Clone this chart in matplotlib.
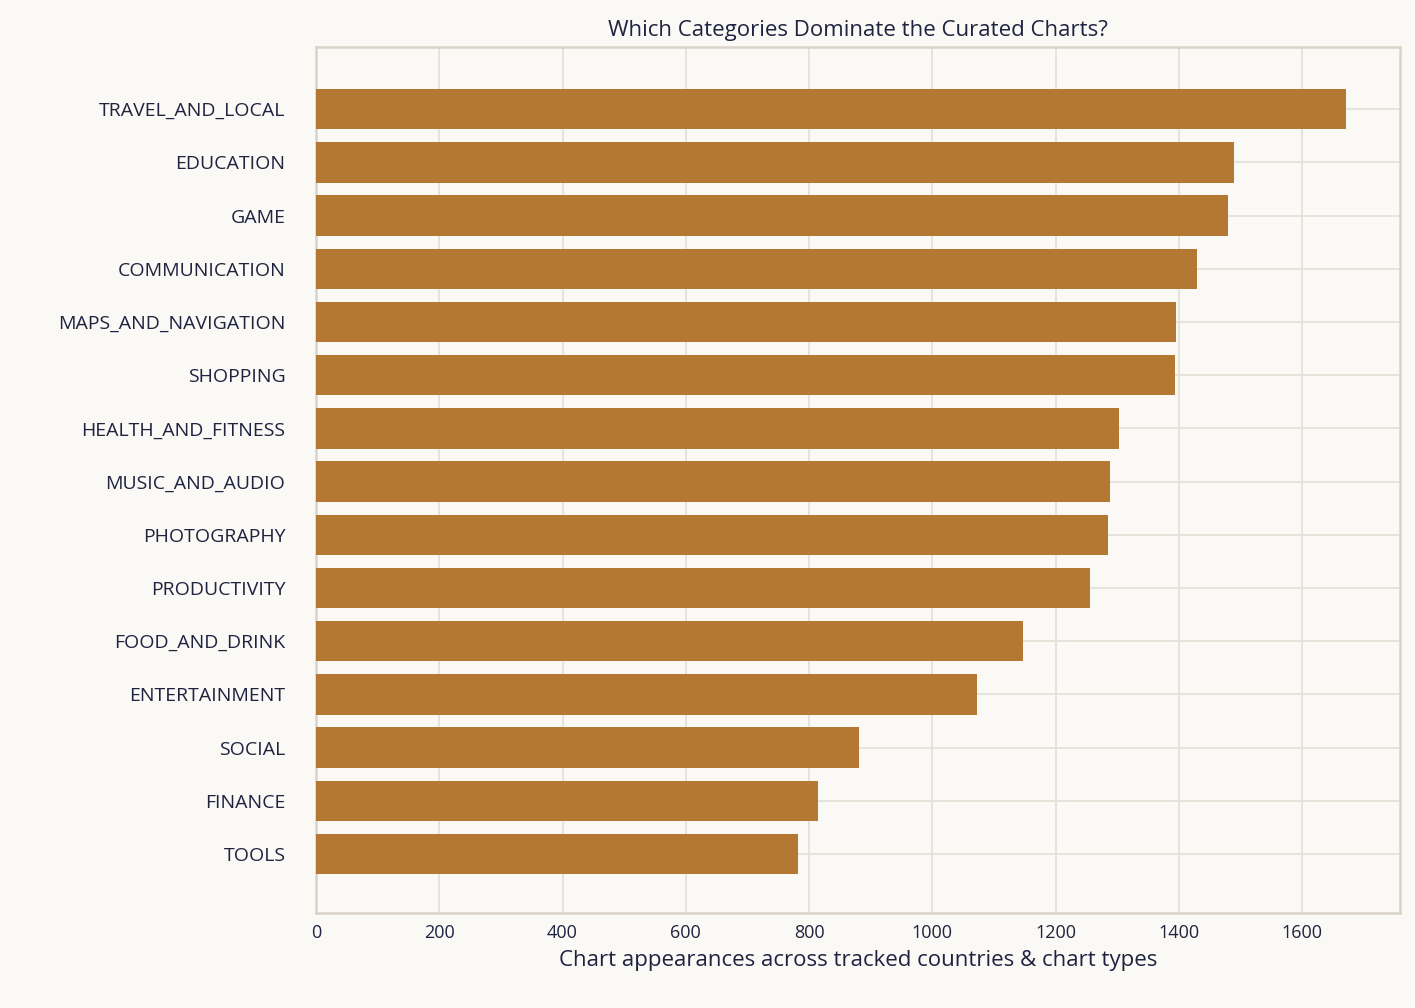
import matplotlib.pyplot as plt

categories = ["TRAVEL_AND_LOCAL", "EDUCATION", "GAME", "COMMUNICATION", "MAPS_AND_NAVIGATION",
              "SHOPPING", "HEALTH_AND_FITNESS", "MUSIC_AND_AUDIO", "PHOTOGRAPHY", "PRODUCTIVITY",
              "FOOD_AND_DRINK", "ENTERTAINMENT", "SOCIAL", "FINANCE", "TOOLS"]
counts = [1671, 1490, 1480, 1430, 1396, 1394, 1303, 1288, 1285, 1256, 1147, 1073, 881, 815, 782]

plt.rcParams['font.family'] = ['Open Sans', 'DejaVu Sans']
bg = '#faf9f5'
fig = plt.figure(figsize=(14.15, 10.08), dpi=100, facecolor=bg)
ax = fig.add_axes([316/1415, 1-913/1008, (1400-316)/1415, (913-47)/1008])
ax.set_facecolor(bg)

y = list(range(len(categories)))
ax.barh(y, counts, height=0.76, color='#b47832', zorder=3)
ax.set_yticks(y)
ax.set_yticklabels(categories, fontsize=14, color='#1f2340')
ax.set_ylim(len(categories) - 1 + 1.11, -1.17)
ax.set_xlim(0, 1759)
ax.set_xticks(range(0, 1601, 200))
ax.tick_params(axis='x', labelsize=13, colors='#1f2340')
ax.tick_params(length=0, pad=8)
ax.tick_params(axis='y', pad=22)
ax.grid(True, color='#e4e1d8', linewidth=1.3, zorder=0)
for s in ax.spines.values():
    s.set_color('#d9d4c7')
    s.set_linewidth(1.8)
ax.set_xlabel("Chart appearances across tracked countries & chart types", fontsize=16, color='#1f2340', labelpad=6)
ax.set_title("Which Categories Dominate the Curated Charts?", fontsize=16, color='#1f2340', pad=8)

fig.savefig('out.png', dpi=100, facecolor=bg)
